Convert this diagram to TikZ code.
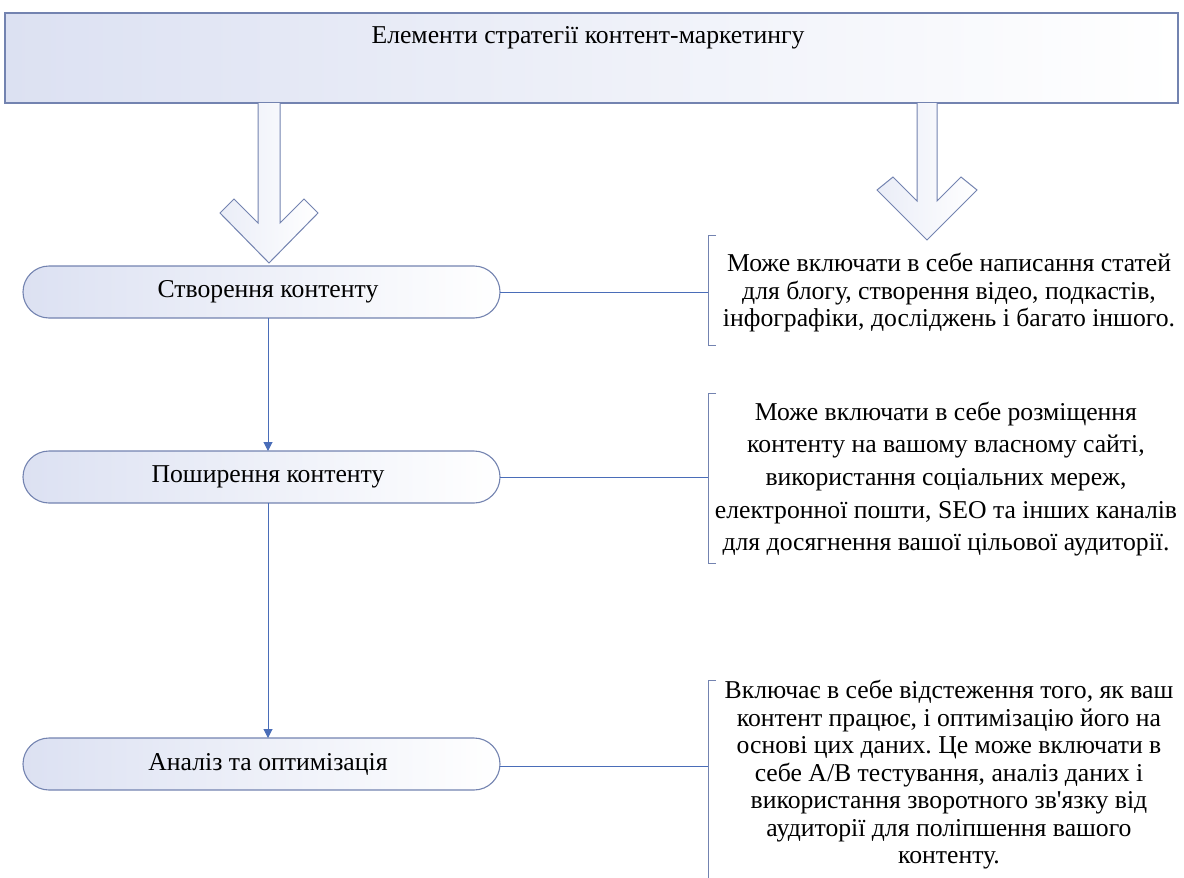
\documentclass[tikz,border=0pt]{standalone}
\usepackage{fontspec}
\setmainfont{Liberation Serif}
\usetikzlibrary{arrows.meta}
\definecolor{edgeblue}{HTML}{7383B0}
\definecolor{lineblue}{HTML}{4A6DB8}
\definecolor{fillblue}{HTML}{DCE1F2}
\tikzset{
  titlebox/.style={draw=edgeblue, line width=1.2pt, left color=fillblue, right color=white},
  blockarrow/.style={draw=edgeblue, line width=1pt, left color=fillblue!60, right color=white},
  pill/.style={draw=edgeblue, line width=1.1pt, rounded corners=26pt, left color=fillblue, right color=white},
  conn/.style={draw=lineblue, line width=1pt},
  flow/.style={draw=lineblue, line width=1pt, -{Triangle[length=9pt,width=9pt]}},
  brk/.style={draw=edgeblue, line width=1pt},
  lbl/.style={font=\fontsize{25.7}{30}\selectfont, text=black, inner sep=0pt},
  desc/.style={font=\fontsize{25.7}{27.5}\selectfont, text=black, align=center, inner sep=0pt},
  descwide/.style={font=\fontsize{25.7}{32.7}\selectfont, text=black, align=center, inner sep=0pt}
}
\begin{document}
\frenchspacing
\begin{tikzpicture}[x=1pt,y=-1pt]
\useasboundingbox (0,0) rectangle (1184,878);
% title box
\path[titlebox] (5,13) rectangle (1178,103);
\node[lbl] (title) at (588,38) {Елементи стратегії контент-маркетингу};
% block arrows
\path[blockarrow] (258,103) -- (258,223) -- (234,199) -- (220,213) -- (269,263) -- (318,213) -- (304,199) -- (280,223) -- (280,103);
\path[blockarrow] (917,103) -- (917,201) -- (893,177) -- (877,190) -- (927,240) -- (977,190) -- (961,177) -- (937,201) -- (937,103);
% pills
\path[pill] (23,266) rectangle (500,318);
\node[lbl] (p1) at (268,292) {Створення контенту};
\path[pill] (23,451) rectangle (500,503);
\node[lbl] (p2) at (268,477) {Поширення контенту};
\path[pill] (23,738) rectangle (500,790);
\node[lbl] (p3) at (268,764) {Аналіз та оптимізація};
\coordinate (b1) at (268,318);
\coordinate (t2) at (268,451);
\coordinate (b2) at (268,503);
\coordinate (t3) at (268,738);
\draw[flow] (b1) -- (t2);
\draw[flow] (b2) -- (t3);
% brackets
\coordinate (r1) at (500,292); \coordinate (k1) at (708,292);
\coordinate (r2) at (500,477); \coordinate (k2) at (708,477);
\coordinate (r3) at (500,766); \coordinate (k3) at (708,766);
\draw[conn] (r1) -- (k1);
\draw[conn] (r2) -- (k2);
\draw[conn] (r3) -- (k3);
\draw[brk] (716,235) -- (708,235) -- (708,345) -- (716,345);
\draw[brk] (716,393) -- (708,393) -- (708,563) -- (716,563);
\draw[brk] (716,680) -- (708,680) -- (708,878);
% descriptions
\node[desc] (d1) at (949,293) {Може включати в себе написання статей\\для блогу, створення відео, подкастів,\\інфографіки, досліджень і багато іншого.};
\node[descwide] (d2) at (946,479) {Може включати в себе розміщення\\контенту на вашому власному сайті,\\використання соціальних мереж,\\електронної пошти, SEO та інших каналів\\для досягнення вашої цільової аудиторії.};
\node[desc] (d3) at (949,775) {Включає в себе відстеження того, як ваш\\контент працює, і оптимізацію його на\\основі цих даних. Це може включати в\\себе A/B тестування, аналіз даних і\\використання зворотного зв\textquotesingle язку від\\аудиторії для поліпшення вашого\\контенту.};
\end{tikzpicture}
\end{document}
